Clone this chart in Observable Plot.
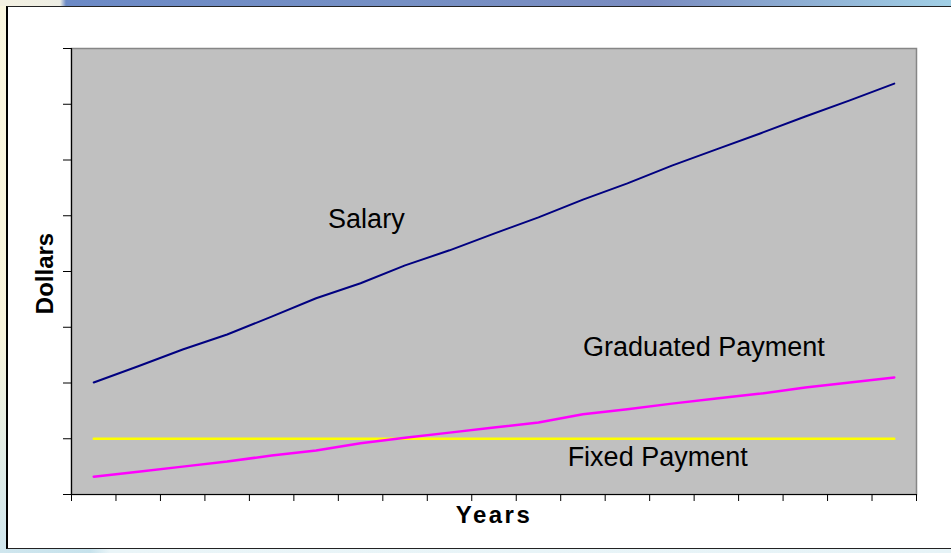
<!DOCTYPE html>
<html><head><meta charset="utf-8">
<script src="https://cdn.jsdelivr.net/npm/d3@7"></script>
<script src="https://cdn.jsdelivr.net/npm/@observablehq/plot@0.6"></script>
<style>
html,body{margin:0;padding:0;width:951px;height:553px;overflow:hidden;background:#fff;}
#wrap{position:relative;width:951px;height:553px;background:linear-gradient(90deg,#cfe6ee 0px,#c6e2ec 90px,#eaf5f8 110px,#e6f3f7 951px);}
#topstrip{position:absolute;left:0;top:0;width:951px;height:6px;background:linear-gradient(90deg,#f4f1e2 0px,#eeeee4 60px,#6c8ac6 66px,#7690c4 400px,#7a8cc0 650px,#a2d0e6 951px);}
#leftstrip{position:absolute;left:0;top:6px;width:6px;height:547px;background:linear-gradient(180deg,#fbf7e0 0%,#f8f4dc 60%,#cfe6ee 100%);}
#panel{position:absolute;left:6px;top:6px;width:945px;height:543px;background:#fff;border-left:2px solid #000;border-top:1px solid #222;border-bottom:1px solid #222;box-sizing:border-box;}
#chart{position:absolute;left:0;top:0;}
</style>
</head><body>
<div id="wrap"><div id="topstrip"></div><div id="leftstrip"></div><div id="panel"></div><div id="chart"></div></div>
<script>
// Year categories (19 periods)
const years = [1,2,3,4,5,6,7,8,9,10,11,12,13,14,15,16,17,18,19];
// Series values (arbitrary dollar units, axis unlabeled)
const salary = [2.01,2.30,2.60,2.87,3.19,3.52,3.79,4.11,4.38,4.68,4.97,5.29,5.58,5.90,6.19,6.48,6.78,7.07,7.37];
const graduated = [0.32,0.41,0.50,0.59,0.70,0.79,0.92,1.02,1.11,1.20,1.29,1.44,1.53,1.63,1.72,1.81,1.92,2.01,2.10];
const fixedPay = [1.0,1.0,1.0,1.0,1.0,1.0,1.0,1.0,1.0,1.0,1.0,1.0,1.0,1.0,1.0,1.0,1.0,1.0,1.0];
// Tick positions (category boundaries on x, unlabeled gridline units on y)
const xTicks = [0.5,1.5,2.5,3.5,4.5,5.5,6.5,7.5,8.5,9.5,10.5,11.5,12.5,13.5,14.5,15.5,16.5,17.5,18.5,19.5];
const yTicks = [0,1,2,3,4,5,6,7,8];
// Series labels placed in data space
const labelNames = ["Salary","Graduated Payment","Fixed Payment"];
const labelX = [7.13,14.72,13.68];
const labelY = [4.94,2.64,0.67];

const rows = (vals, name) => years.map((yr,i)=>({year:yr, value:vals[i], series:name}));
const labels = labelNames.map((n,i)=>({name:n, x:labelX[i], y:labelY[i]}));

const chart = Plot.plot({
  width:951, height:553,
  marginLeft:71, marginRight:35, marginTop:48, marginBottom:59,
  style:{background:"transparent", fontFamily:"'Liberation Sans', Arial, sans-serif", overflow:"visible"},
  x:{domain:[0.5,19.5], axis:null},
  y:{domain:[0,8], axis:null},
  marks:[
    Plot.frame({fill:"#c0c0c0", stroke:"#868686", strokeWidth:1.5}),
    Plot.axisX(xTicks, {anchor:"bottom", tickSize:7, tickFormat:()=>"", label:null, stroke:"#000"}),
    Plot.axisY(yTicks, {anchor:"left", tickSize:8, tickFormat:()=>"", label:null, stroke:"#000"}),
    Plot.ruleX([0.5], {stroke:"#000", strokeWidth:1.2}),
    Plot.ruleY([0], {stroke:"#000", strokeWidth:1.2}),
    Plot.line(rows(salary,"Salary"), {x:"year", y:"value", stroke:"#000080", strokeWidth:2}),
    Plot.line(rows(fixedPay,"Fixed Payment"), {x:"year", y:"value", stroke:"#ffff00", strokeWidth:2.5}),
    Plot.line(rows(graduated,"Graduated Payment"), {x:"year", y:"value", stroke:"#ff00ff", strokeWidth:2.5}),
    Plot.text(labels, {x:"x", y:"y", text:"name", fontSize:27, fill:"#000", textAnchor:"middle"}),
    Plot.text(["Years"], {frameAnchor:"bottom", lineAnchor:"middle", dy:21, fontSize:24, fontWeight:"bold", fill:"#000", textAnchor:"middle"}),
    Plot.text(["Dollars"], {frameAnchor:"left", lineAnchor:"middle", dx:-26, dy:2, rotate:-90, fontSize:24, fontWeight:"bold", fill:"#000", textAnchor:"middle"})
  ]
});
d3.select(chart).selectAll("text").filter(function(){return this.textContent==="Years";}).attr("letter-spacing","2.5px");
document.getElementById("chart").appendChild(chart);
</script>
</body></html>
